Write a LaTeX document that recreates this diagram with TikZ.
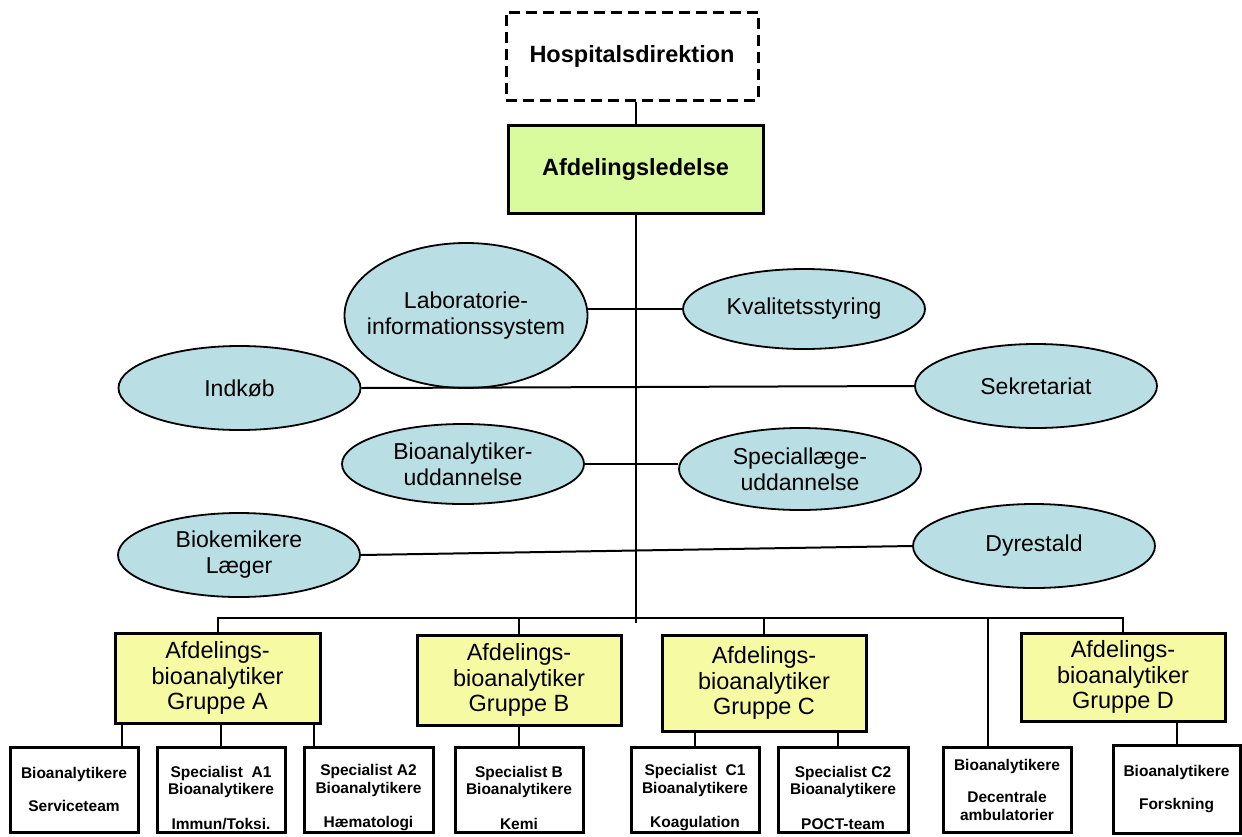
\documentclass[tikz,border=0pt]{standalone}
\usepackage{fontspec}
\setmainfont{Liberation Sans}
\usetikzlibrary{shapes.geometric}
\definecolor{ovalblue}{RGB}{185,223,228}
\definecolor{ledgreen}{RGB}{217,250,157}
\definecolor{grpyellow}{RGB}{246,250,163}
\tikzset{
  oval/.style={ellipse, draw, line width=1.8pt, fill=ovalblue, inner sep=0pt, minimum width=242pt, minimum height=84pt},
  ovaltext/.style={align=center, font=\fontsize{23}{26}\selectfont},
  topbox/.style={draw, line width=3pt, inner sep=0pt, minimum height=88pt, font=\bfseries\fontsize{23.5}{28}\selectfont},
  grpbox/.style={draw, line width=3pt, fill=grpyellow, minimum width=205pt, minimum height=90pt, align=center, inner sep=0pt, font=\fontsize{23.5}{25.5}\selectfont},
  staffbox/.style={draw, line width=3pt, fill=white, minimum width=128pt, minimum height=85pt, align=center, inner sep=0pt, font=\bfseries\fontsize{15.5}{17.5}\selectfont},
  link/.style={line width=2pt}
}
\newcommand{\lowtop}{\rule{0pt}{28pt}}
\begin{document}
\begin{tikzpicture}[x=1pt,y=-1pt]
  \useasboundingbox (0,0) rectangle (1242,836);
  \node[topbox, dash pattern=on 11pt off 6pt, minimum width=252pt] (hosp) at (632,56) {Hospitalsdirektion};
  \node[topbox, fill=ledgreen, minimum width=255pt] (afd) at (635.5,169) {Afdelingsledelse};
  % staff functions
  \node[oval, minimum width=243pt, minimum height=145pt] (lab) at (466,315.5) {};
  \node[ovaltext] (lab-t) at (lab) {Laboratorie-\\informationssystem};
  \node[oval, minimum height=80pt] (kval) at (804,309) {};
  \node[ovaltext] (kval-t) at (kval) {Kvalitetsstyring};
  \node[oval] (indkob) at (239.5,388) {};
  \node[ovaltext] (indkob-t) at (indkob) {Indkøb};
  \node[oval] (sekr) at (1036,386) {};
  \node[ovaltext] (sekr-t) at (sekr) {Sekretariat};
  \node[oval, minimum height=80pt] (bioudd) at (463,464) {};
  \node[ovaltext] (bioudd-t) at (bioudd) {Bioanalytiker-\\uddannelse};
  \node[oval, minimum height=82pt] (specudd) at (800,469) {};
  \node[ovaltext] (specudd-t) at (specudd) {Speciallæge-\\uddannelse};
  \node[oval] (biokem) at (239,555) {};
  \node[ovaltext] (biokem-t) at (biokem) {Biokemikere\\Læger};
  \node[oval] (dyre) at (1034,546) {};
  \node[ovaltext] (dyre-t) at (dyre) {Dyrestald};
  % groups
  \node[grpbox] (gA) at (217.5,678) {Afdelings-\\bioanalytiker\\Gruppe A};
  \node[grpbox, minimum width=204pt] (gB) at (519,680) {Afdelings-\\bioanalytiker\\Gruppe B};
  \node[grpbox, minimum width=204pt, minimum height=96pt] (gC) at (764,683) {Afdelings-\\bioanalytiker\\Gruppe C};
  \node[grpbox, minimum width=204pt, minimum height=88pt] (gD) at (1123,677) {Afdelings-\\bioanalytiker\\Gruppe D};
  \node[staffbox] (b1) at (74,789.5) {Bioanalytikere\\[15pt]Serviceteam};
  \node[staffbox] (b2) at (221,789.5) {\lowtop Specialist\ \ A1\\Bioanalytikere\\[17pt]Immun/Toksi.};
  \node[staffbox, minimum width=129pt] (b3) at (368.5,789.5) {\lowtop Specialist A2\\Bioanalytikere\\[17pt]Hæmatologi};
  \node[staffbox] (b4) at (519,789.5) {\lowtop Specialist B\\Bioanalytikere\\[17pt]Kemi};
  \node[staffbox] (b5) at (695,789.5) {\lowtop Specialist\ \ C1\\Bioanalytikere\\[17pt]Koagulation};
  \node[staffbox, minimum width=130pt] (b6) at (843,789.5) {\lowtop Specialist C2\\Bioanalytikere\\[17pt]POCT-team};
  \node[staffbox] (b7) at (1007,789.5) {Bioanalytikere\\[15pt]Decentrale\\ambulatorier};
  \node[staffbox, minimum width=127pt, minimum height=88pt] (b8) at (1176.5,789) {Bioanalytikere\\[15pt]Forskning};
  \coordinate (bus) at (636,618);
  \draw[link] (afd.north) -- (afd.north |- hosp.south);
  \draw[link] (afd.south) -- ([yshift=-5pt]afd.south |- bus);
  \draw[link] (lab.east |- kval.west) -- (kval.west);
  \draw[link] (indkob.east) -- (sekr.west);
  \draw[link] (bioudd.east) -- (bioudd.east -| specudd.west);
  \draw[link] (biokem.east) -- (dyre.west);
  \draw[link] (gA.north) |- (bus) -| (gD.north);
  \draw[link] (gB.north) -- (gB.north |- bus);
  \draw[link] (gC.north) -- (gC.north |- bus);
  \draw[link] ([xshift=-19pt]b7.north) -- ([xshift=-19pt]b7.north |- bus);
  \draw[link] ([xshift=48pt]b1.north) -- ([xshift=48pt]b1.north |- gA.south);
  \draw[link] (b2.north) -- (b2.north |- gA.south);
  \draw[link] ([xshift=-55pt]b3.north) -- ([xshift=-55pt]b3.north |- gA.south);
  \draw[link] (b4.north) -- (b4.north |- gB.south);
  \draw[link] (b5.north) -- (b5.north |- gC.south);
  \draw[link] ([xshift=-5pt]b6.north) -- ([xshift=-5pt]b6.north |- gC.south);
  \draw[link] (b8.north) -- (b8.north |- gD.south);
\end{tikzpicture}
\end{document}
